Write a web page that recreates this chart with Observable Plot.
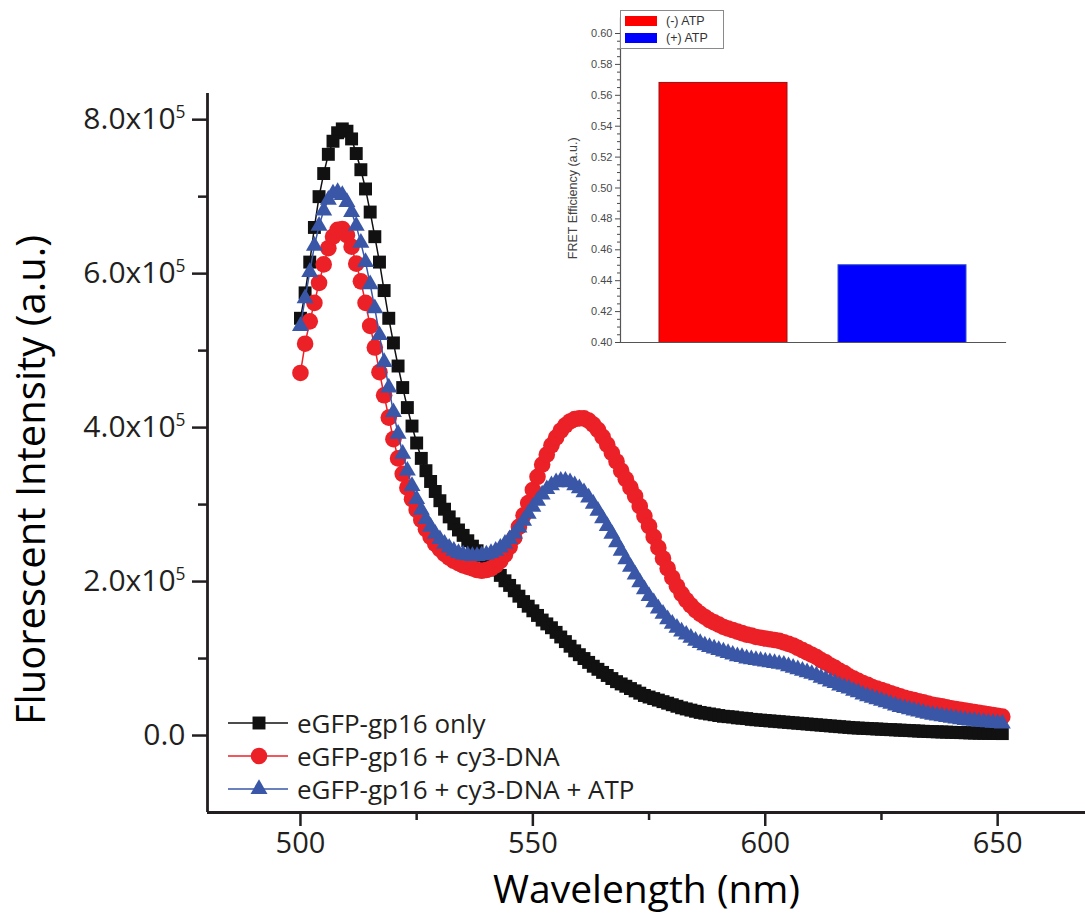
<!DOCTYPE html>
<html><head><meta charset="utf-8">
<script src="https://cdn.jsdelivr.net/npm/d3@7"></script>
<script src="https://cdn.jsdelivr.net/npm/@observablehq/plot@0.6"></script>
<style>
body{margin:0;background:#fff;}
#wrap{position:relative;width:1085px;height:916px;overflow:hidden;background:#fff;}
#inset{position:absolute;left:540px;top:0;}
.leg{position:absolute;display:flex;align-items:center;font-family:'Open Sans',sans-serif;font-size:26px;color:#231f20;white-space:nowrap;}
.ileg{position:absolute;left:620px;top:10px;width:102px;height:37px;border:1px solid #8a8a8a;background:#fff;font-family:'Liberation Sans',Arial,sans-serif;font-size:12.5px;color:#333;}
.ileg div{position:absolute;left:4px;display:flex;align-items:center;}
.ileg span.sw{display:inline-block;width:32px;height:10px;margin-right:9px;}
</style></head>
<body><div id="wrap"></div>
<script>
// ---------- data ----------
const wavelengths = d3.range(500, 652); // nm, 1 nm steps
// intensities in units of 10^5 a.u.
const eGFPonly = [
5.42,5.75,6.15,6.60,7.00,7.30,7.55,7.72,7.83,7.88,
7.85,7.75,7.56,7.35,7.10,6.80,6.48,6.15,5.78,5.42,
5.10,4.80,4.52,4.26,4.02,3.80,3.60,3.44,3.30,3.17,
3.05,2.94,2.84,2.75,2.67,2.60,2.53,2.46,2.40,2.34,
2.28,2.22,2.15,2.08,2.01,1.95,1.88,1.81,1.74,1.68,
1.62,1.56,1.50,1.45,1.40,1.34,1.28,1.22,1.16,1.10,
1.05,1.00,0.95,0.90,0.86,0.82,0.78,0.74,0.70,0.67,
0.64,0.61,0.58,0.55,0.52,0.50,0.48,0.46,0.44,0.42,
0.40,0.38,0.36,0.345,0.33,0.315,0.30,0.29,0.28,0.27,
0.26,0.25,0.245,0.24,0.23,0.225,0.22,0.21,0.205,0.20,
0.195,0.19,0.185,0.18,0.175,0.17,0.165,0.16,0.155,0.15,
0.145,0.14,0.135,0.13,0.125,0.12,0.115,0.11,0.105,0.10,
0.097,0.094,0.091,0.088,0.085,0.082,0.079,0.076,0.073,0.070,
0.067,0.064,0.061,0.058,0.055,0.052,0.050,0.048,0.046,0.044,
0.042,0.040,0.038,0.036,0.034,0.032,0.030,0.029,0.028,0.027,
0.026,0.025];
const plusDNA = [
4.71,5.09,5.38,5.62,5.88,6.12,6.33,6.48,6.57,6.58,
6.50,6.35,6.13,5.90,5.62,5.32,5.04,4.72,4.42,4.13,
3.85,3.60,3.40,3.22,3.07,2.93,2.80,2.68,2.58,2.49,
2.42,2.36,2.31,2.27,2.24,2.21,2.19,2.17,2.15,2.14,
2.15,2.17,2.21,2.27,2.35,2.45,2.57,2.71,2.86,3.02,
3.19,3.36,3.52,3.65,3.77,3.87,3.96,4.03,4.08,4.11,
4.12,4.12,4.09,4.04,3.97,3.88,3.78,3.67,3.56,3.44,
3.33,3.22,3.11,2.98,2.85,2.72,2.58,2.44,2.30,2.17,
2.05,1.94,1.84,1.76,1.69,1.63,1.58,1.54,1.50,1.47,
1.44,1.41,1.39,1.37,1.35,1.33,1.31,1.30,1.28,1.27,
1.26,1.25,1.24,1.23,1.21,1.19,1.17,1.14,1.11,1.08,
1.05,1.02,0.98,0.95,0.91,0.88,0.84,0.81,0.77,0.74,
0.71,0.68,0.66,0.63,0.61,0.59,0.57,0.55,0.53,0.51,
0.49,0.475,0.46,0.445,0.43,0.415,0.40,0.39,0.38,0.365,
0.355,0.345,0.335,0.325,0.315,0.305,0.295,0.285,0.275,0.265,
0.255,0.245];
const plusDNAATP = [
5.32,5.68,6.02,6.36,6.62,6.82,6.96,7.04,7.06,7.02,
6.93,6.80,6.62,6.40,6.15,5.86,5.55,5.20,4.85,4.52,
4.20,3.92,3.66,3.44,3.24,3.07,2.93,2.81,2.71,2.62,
2.55,2.49,2.44,2.40,2.37,2.35,2.34,2.33,2.33,2.34,
2.35,2.37,2.40,2.44,2.49,2.55,2.62,2.70,2.79,2.88,
2.97,3.05,3.13,3.20,3.25,3.29,3.31,3.31,3.29,3.25,
3.21,3.16,3.09,3.01,2.92,2.82,2.72,2.62,2.51,2.40,
2.29,2.19,2.09,1.99,1.90,1.81,1.73,1.65,1.58,1.51,
1.45,1.40,1.35,1.31,1.27,1.23,1.20,1.17,1.15,1.13,
1.11,1.09,1.07,1.05,1.03,1.02,1.00,0.99,0.98,0.97,
0.96,0.95,0.94,0.93,0.92,0.90,0.88,0.86,0.84,0.82,
0.80,0.78,0.75,0.73,0.70,0.68,0.65,0.63,0.61,0.58,
0.56,0.53,0.51,0.49,0.47,0.45,0.43,0.41,0.39,0.37,
0.355,0.34,0.325,0.31,0.295,0.28,0.27,0.26,0.25,0.24,
0.23,0.22,0.21,0.20,0.195,0.19,0.18,0.175,0.17,0.165,
0.16,0.155];
const seriesNames = ["eGFP-gp16 only", "eGFP-gp16 + cy3-DNA", "eGFP-gp16 + cy3-DNA + ATP"];
const seriesValues = [eGFPonly, plusDNA, plusDNAATP];
const xMajorTicks = [500, 550, 600, 650];
const xMinorTicks = [525, 575, 625];
const yMajorTicks = [0, 2, 4, 6, 8];
const yMinorTicks = [1, 3, 5, 7];
const xTitle = "Wavelength (nm)";
const yTitle = "Fluorescent Intensity (a.u.)";

// inset
const conditions = ["(-) ATP", "(+) ATP"];
const fretEfficiency = [0.568, 0.450];
const insetMajorTicks = [0.40, 0.42, 0.44, 0.46, 0.48, 0.50, 0.52, 0.54, 0.56, 0.58, 0.60];
const insetMinorTicks = [0.405,0.41,0.415,0.425,0.43,0.435,0.445,0.45,0.455,0.465,0.47,0.475,0.485,0.49,0.495,0.505,0.51,0.515,0.525,0.53,0.535,0.545,0.55,0.555,0.565,0.57,0.575,0.585,0.59,0.595];
const insetTitle = "FRET Efficiency (a.u.)";

// ---------- styles ----------
const xDomain = [480, 668.9];
const yDomain = [-1, 8.34];
const colors = ["#111111", "#ec2027", "#3a57a7"];
const symbols = ["square", "circle", "triangle"];
const radii = [7.3, 8.3, 6.3];
const barColors = ["#ff0000", "#0000ff"];
const barStrokes = ["#9a1010", "#3050c8"];
const ink = "#231f20";

const rows = [];
seriesValues.forEach((vals, s) => vals.forEach((v, i) => rows.push({wl: wavelengths[i], v, s})));

const seriesMarks = [];
seriesNames.forEach((name, s) => {
  const d = rows.filter(r => r.s === s);
  seriesMarks.push(Plot.line(d, {x: "wl", y: "v", stroke: colors[s], strokeWidth: 1.5}));
  seriesMarks.push(Plot.dot(d, {x: "wl", y: "v", symbol: symbols[s], r: radii[s], fill: colors[s], stroke: "none"}));
});

const main = Plot.plot({
  width: 1085, height: 916,
  marginLeft: 207, marginRight: 0, marginTop: 93, marginBottom: 104,
  style: {fontFamily: "'Open Sans', sans-serif", fontSize: "30px", color: ink, background: "transparent", overflow: "visible"},
  x: {domain: xDomain},
  y: {domain: yDomain},
  marks: [
    Plot.axisX({ticks: xMajorTicks, tickSize: 14, tickPadding: 6, strokeWidth: 2.5, label: null, fontSize: 29, tickFormat: d => String(d)}),
    Plot.axisX({ticks: xMinorTicks, tickSize: 8, strokeWidth: 2.5, label: null, tickFormat: () => ""}),
    Plot.axisY({ticks: yMajorTicks, tickSize: 15, tickPadding: 7, strokeWidth: 2.5, label: null,
      tickFormat: d => d === 0 ? "0.0" : d.toFixed(1) + "x10"}),
    Plot.axisY({ticks: yMinorTicks, tickSize: 9, strokeWidth: 2.5, label: null, tickFormat: () => ""}),
    Plot.ruleX([xDomain[0]], {stroke: ink, strokeWidth: 2.8}),
    Plot.ruleY([yDomain[0]], {stroke: ink, strokeWidth: 2.8}),
    ...seriesMarks,
    Plot.text([xTitle], {frameAnchor: "bottom", textAnchor: "middle", dy: 90, fontSize: 39, fill: "#000"}),
    Plot.text([yTitle], {frameAnchor: "left", textAnchor: "middle", rotate: -90, dx: -175, dy: 27, fontSize: 40, fill: "#000"})
  ]
});

// superscript exponent on y tick labels
d3.select(main).selectAll('g[aria-label="y-axis tick label"] text').each(function() {
  const t = d3.select(this);
  const s = t.text();
  if (s && s !== "0.0") {
    t.text(s);
    t.append("tspan").attr("dy", "-0.62em").attr("font-size", "0.58em").text("5");
  }
});

const wrap = document.getElementById("wrap");
wrap.appendChild(main);

// main legend
const legRows = [723, 756, 789];
seriesNames.forEach((name, s) => {
  const div = document.createElement("div");
  div.className = "leg";
  div.style.left = "228px";
  div.style.top = (legRows[s] - 18) + "px";
  div.style.height = "36px";
  const path = d3.symbol(d3["symbol" + symbols[s][0].toUpperCase() + symbols[s].slice(1)], Math.PI * radii[s] * radii[s])();
  div.innerHTML = `<svg width="60" height="36" style="overflow:visible"><line x1="0" x2="60" y1="18" y2="18" stroke="${colors[s]}" stroke-width="1.5"/><path d="${path}" transform="translate(31,18)" fill="${colors[s]}"/></svg><span style="margin-left:9px">${name}</span>`;
  wrap.appendChild(div);
});

// inset bar chart
const bars = conditions.map((c, i) => ({c, v: fretEfficiency[i], i}));
const inset = Plot.plot({
  width: 480, height: 360,
  marginLeft: 80, marginRight: 15, marginTop: 17.55, marginBottom: 18,
  style: {fontFamily: "'Liberation Sans', Arial, sans-serif", fontSize: "11px", color: "#4a4a4a", background: "transparent", overflow: "visible"},
  x: {domain: conditions, paddingInner: 0.283, paddingOuter: 0.211, axis: null},
  y: {domain: [0.40, 0.61]},
  marks: [
    Plot.barY(bars, {x: "c", y: "v", fill: d => barColors[d.i], stroke: d => barStrokes[d.i], strokeWidth: 1, clip: true}),
    Plot.frame({anchor: "left", stroke: "#555", strokeWidth: 1.2}),
    Plot.frame({anchor: "bottom", stroke: "#555", strokeWidth: 1.2}),
    Plot.axisY({ticks: insetMajorTicks, tickSize: 5, tickPadding: 3, label: null, tickFormat: d => d.toFixed(2)}),
    Plot.axisY({ticks: insetMinorTicks, tickSize: 3, label: null, tickFormat: () => ""}),
    Plot.text([insetTitle], {frameAnchor: "left", textAnchor: "middle", rotate: -90, dx: -48, dy: 18, fontSize: 12.5, fill: "#444"})
  ]
});
inset.id = "inset";
wrap.appendChild(inset);

// inset legend
const ileg = document.createElement("div");
ileg.className = "ileg";
ileg.innerHTML = conditions.map((c, i) =>
  `<div style="top:${i === 0 ? 1 : 18}px;height:17px"><span class="sw" style="background:${barColors[i]}"></span>${c}</div>`).join("");
wrap.appendChild(ileg);
</script>
</body></html>
